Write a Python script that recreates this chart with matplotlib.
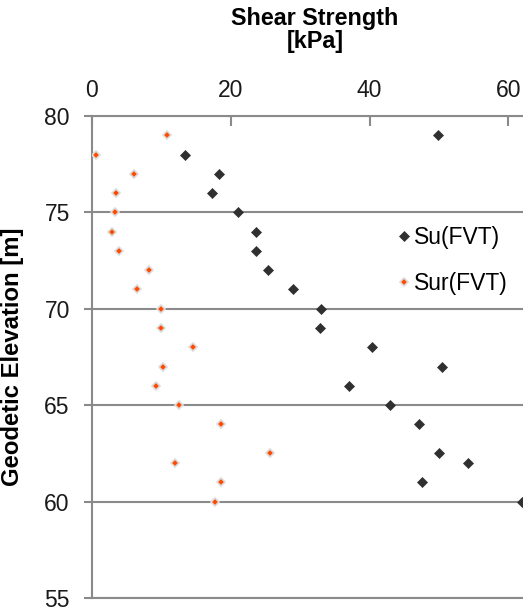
"""Shear strength vs geodetic elevation (field vane test)."""

import matplotlib

matplotlib.use("Agg")

import matplotlib.pyplot as plt

plt.rcParams["font.family"] = ["Liberation Sans", "DejaVu Sans"]

# Su(FVT): undrained shear strength [kPa] at elevation [m]
su_kpa = [49.8, 13.4, 18.3, 17.3, 21.0, 23.7, 23.7, 25.3, 29.0, 33.0,
          32.8, 40.3, 50.4, 37.0, 43.0, 47.1, 50.0, 54.2, 47.6, 62.0]
su_elev = [79.0, 78.0, 77.0, 76.0, 75.0, 74.0, 73.0, 72.0, 71.0, 70.0,
           69.0, 68.0, 67.0, 66.0, 65.0, 64.0, 62.5, 62.0, 61.0, 60.0]

# Sur(FVT): remoulded shear strength [kPa] at elevation [m]
sur_kpa = [10.8, 0.6, 6.0, 3.4, 3.3, 2.9, 3.9, 8.2, 6.5, 10.0,
           10.0, 14.6, 10.2, 9.2, 12.6, 18.6, 25.6, 12.0, 18.6, 17.7]
sur_elev = [79.0, 78.0, 77.0, 76.0, 75.0, 74.0, 73.0, 72.0, 71.0, 70.0,
            69.0, 68.0, 67.0, 66.0, 65.0, 64.0, 62.5, 62.0, 61.0, 60.0]

x_ticks = [0, 20, 40, 60]
y_ticks = [55, 60, 65, 70, 75, 80]

GRID = "#8a8a8a"

fig = plt.figure(figsize=(5.23, 6.11), dpi=100)
ax = fig.add_axes([0.1759, 0.0213, 0.8241, 0.7889])

ax.plot(su_kpa, su_elev, linestyle="none", marker="D", markersize=5.5,
        color="#303030", markeredgecolor="#303030", markeredgewidth=0.5,
        label="Su(FVT)", zorder=3)
ax.plot(sur_kpa, sur_elev, linestyle="none", marker="D", markersize=3.8,
        markerfacecolor="#ff4a00", markeredgecolor="#dcdcdc",
        markeredgewidth=1.2, label="Sur(FVT)", zorder=3)

ax.set_xlim(0, 62.1)
ax.set_ylim(55, 80)
ax.set_xticks(x_ticks)
ax.set_yticks(y_ticks)

ax.xaxis.tick_top()
ax.tick_params(axis="x", direction="in", length=7, width=1.5, color=GRID,
               pad=10, labelsize=16.5, labelcolor="#1a1a1a")
ax.tick_params(axis="y", direction="out", length=6, width=1.5, color=GRID,
               pad=10, labelsize=16.5, labelcolor="#1a1a1a")

ax.yaxis.grid(True, color=GRID, linewidth=1.5)
ax.set_axisbelow(True)

for side in ("left", "top", "bottom"):
    ax.spines[side].set_color(GRID)
    ax.spines[side].set_linewidth(1.5)
ax.spines["right"].set_visible(False)

ax.set_ylabel("Geodetic Elevation [m]", fontsize=17.2, fontweight="bold")
ax.yaxis.set_label_coords(-0.158, 0.5)

fig.text(0.602, 0.951, "Shear Strength\n[kPa]", ha="center", va="center",
         fontsize=16.8, fontweight="bold", linespacing=1.0)

ax.legend(loc="center left", bbox_to_anchor=(0.681, 0.701), frameon=False,
          fontsize=16.5, handlelength=0.6, handletextpad=0.13,
          labelspacing=1.0, borderpad=0)

fig.savefig("out.png", dpi=100)
plt.close(fig)
